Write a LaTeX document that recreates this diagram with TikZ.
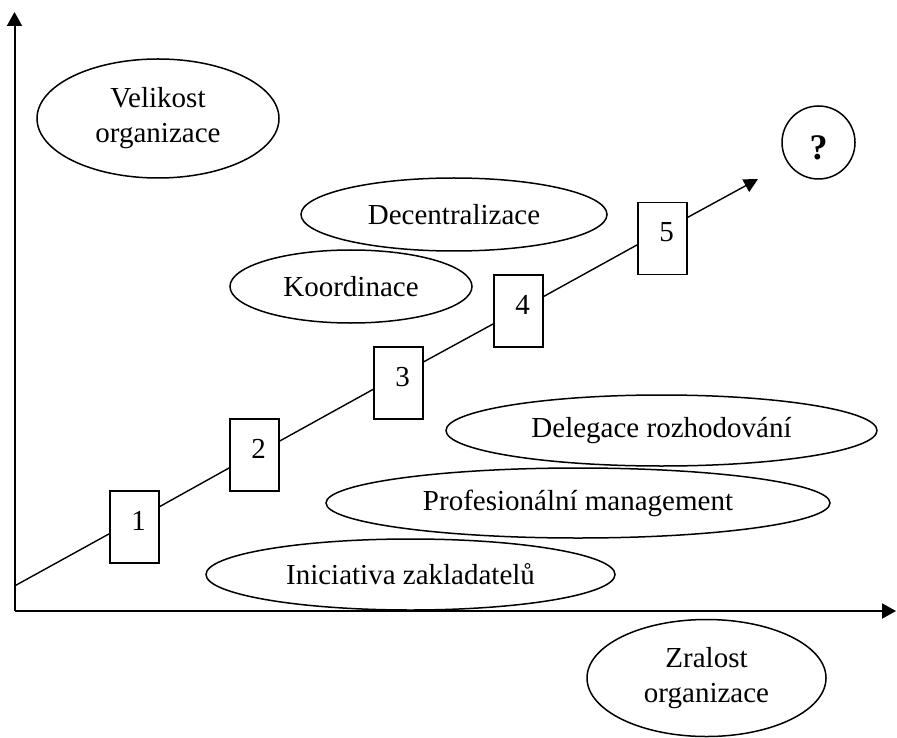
\documentclass[tikz,border=0pt]{standalone}
\usepackage{fontspec}
\setmainfont{Liberation Serif}
\usetikzlibrary{shapes.geometric,arrows.meta}
\begin{document}
\begin{tikzpicture}[x=0.5pt,y=-0.5pt,
  font=\fontsize{14.5pt}{17.5pt}\selectfont,
  oval/.style={draw,ellipse,line width=0.75pt,inner sep=0pt,align=center},
  stage/.style={draw,rectangle,line width=0.75pt,fill=white,
    minimum width=24.5pt,minimum height=36pt,inner sep=0pt,
    text height=10pt,text depth=6.7pt,execute at begin node={\hspace*{4pt}}},
  axis/.style={line width=1pt,-{Triangle[length=7pt,width=7.5pt]}},
  trend/.style={line width=0.7pt}]
\useasboundingbox (0,0) rectangle (897,737);

% axes
\coordinate (O) at (14.5,611);
\coordinate (ytip) at (14.5,12);
\coordinate (xtip) at (896,611);
\draw[axis] (O) -- (ytip);
\draw[axis] (O) -- (xtip);

% labelled ovals
\node[oval,minimum width=121pt,minimum height=59.5pt] (size) at (158,118.5) {Velikost\\organizace};
\node[draw,circle,line width=0.75pt,inner sep=0pt,minimum size=36.5pt,
  font=\fontsize{18pt}{20pt}\selectfont\bfseries,text height=17.4pt,text depth=0pt] (q) at (818.5,142.5) {?};
\node[oval,minimum width=153pt,minimum height=36.5pt] (dec) at (454,214.5) {Decentralizace};
\node[oval,minimum width=121pt,minimum height=36.5pt] (koo) at (351,286.5) {Koordinace};
\node[oval,minimum width=215.5pt,minimum height=35.5pt] (del) at (661.5,430.5) {Delegace rozhodování};
\node[oval,minimum width=252pt,minimum height=35pt] (pro) at (578,503) {Profesionální management};
\node[oval,minimum width=204.5pt,minimum height=35.5pt] (ini) at (410.5,574.5) {Iniciativa zakladatelů};
\node[oval,minimum width=119.5pt,minimum height=58.5pt] (mat) at (706.5,678) {Zralost\\organizace};

% stages
\node[stage] (b1) at (134.5,527) {1};
\node[stage] (b2) at (254.5,455) {2};
\node[stage] (b3) at (398.5,383) {3};
\node[stage] (b4) at (518.5,311) {4};
\node[stage] (b5) at (662.5,238.5) {5};

% growth line through the stages
\coordinate (d0) at (14.5,586);
\coordinate (d1) at (758,179);
\draw[trend] (d0) -- (b1.195.3);
\draw[trend] (b1.39.4) -- (b2.207.9);
\draw[trend] (b2.29.4) -- (b3.194.2);
\draw[trend] (b3.40.1) -- (b4.207.0);
\draw[trend] (b4.30.3) -- (b5.194.2);
\draw[trend,-{Triangle[length=7pt,width=7pt]}] (b5.40.1) -- (d1);
\end{tikzpicture}
\end{document}
